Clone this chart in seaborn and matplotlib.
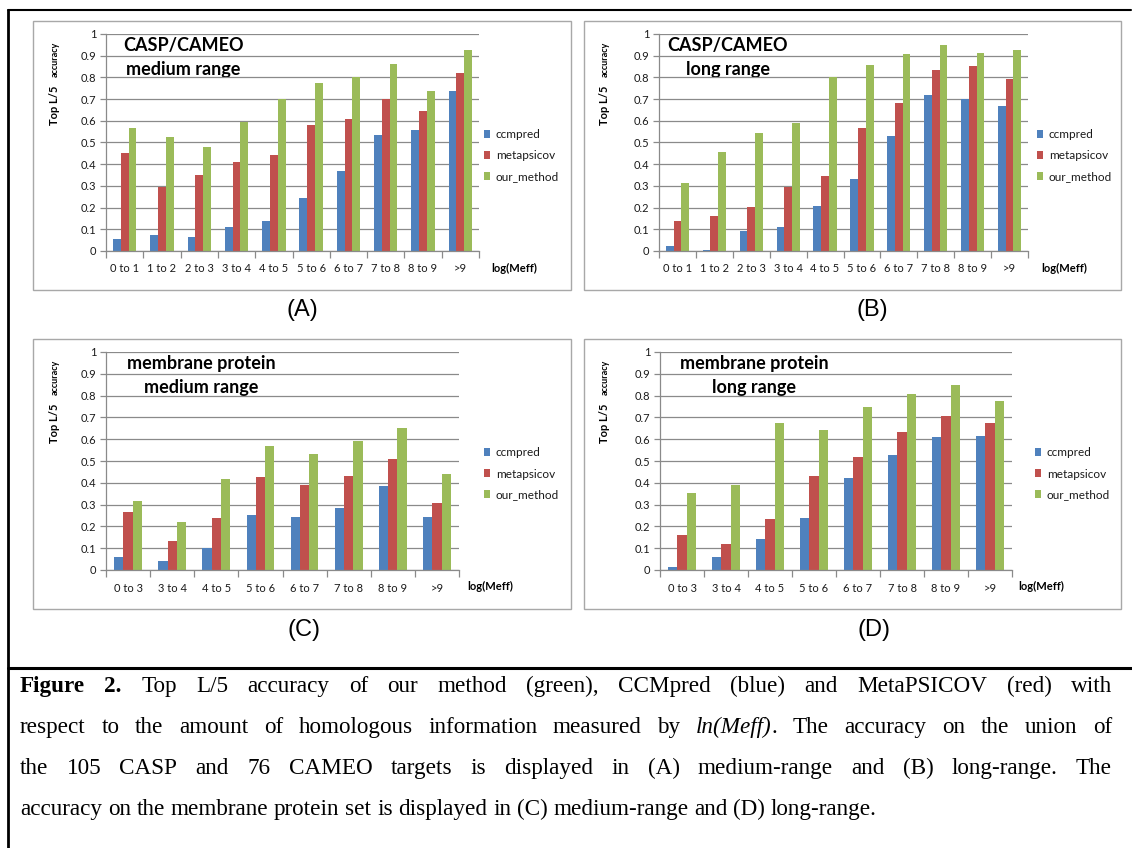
import matplotlib
matplotlib.use('Agg')
import matplotlib.pyplot as plt
import seaborn as sns
import pandas as pd
from matplotlib.lines import Line2D
from matplotlib.patches import Rectangle
from matplotlib.ticker import FixedLocator, FuncFormatter

# ---------------- data ----------------
methods = ['ccmpred', 'metapsicov', 'our_method']
colors = ['#4F81BD', '#C0504D', '#9BBB59']

bins_casp = ['0 to 1', '1 to 2', '2 to 3', '3 to 4', '4 to 5',
             '5 to 6', '6 to 7', '7 to 8', '8 to 9', '>9']
bins_mem = ['0 to 3', '3 to 4', '4 to 5', '5 to 6', '6 to 7',
            '7 to 8', '8 to 9', '>9']

# (A) CASP/CAMEO medium range
a_ccmpred = [0.057, 0.074, 0.065, 0.109, 0.138, 0.243, 0.369, 0.536, 0.558, 0.736]
a_metapsicov = [0.450, 0.295, 0.350, 0.410, 0.441, 0.579, 0.610, 0.699, 0.645, 0.819]
a_our = [0.567, 0.524, 0.479, 0.593, 0.699, 0.774, 0.803, 0.860, 0.739, 0.925]

# (B) CASP/CAMEO long range
b_ccmpred = [0.023, 0.005, 0.092, 0.109, 0.207, 0.333, 0.531, 0.717, 0.700, 0.670]
b_metapsicov = [0.138, 0.160, 0.203, 0.295, 0.346, 0.567, 0.684, 0.834, 0.851, 0.791]
b_our = [0.312, 0.455, 0.544, 0.588, 0.803, 0.856, 0.908, 0.951, 0.912, 0.925]

# (C) membrane protein medium range
c_ccmpred = [0.058, 0.041, 0.100, 0.251, 0.243, 0.286, 0.386, 0.243]
c_metapsicov = [0.265, 0.132, 0.239, 0.426, 0.390, 0.429, 0.510, 0.308]
c_our = [0.317, 0.222, 0.417, 0.571, 0.533, 0.593, 0.652, 0.441]

# (D) membrane protein long range
d_ccmpred = [0.015, 0.058, 0.141, 0.239, 0.420, 0.528, 0.609, 0.613]
d_metapsicov = [0.161, 0.118, 0.236, 0.429, 0.519, 0.631, 0.707, 0.674]
d_our = [0.355, 0.390, 0.674, 0.643, 0.747, 0.807, 0.850, 0.776]

yticks = [0, 0.1, 0.2, 0.3, 0.4, 0.5, 0.6, 0.7, 0.8, 0.9, 1.0]

caption_lines = [
    "Figure 2. Top L/5 accuracy of our method (green), CCMpred (blue) and MetaPSICOV (red) with",
    "respect to the amount of homologous information measured by ln(Meff). The accuracy on the union of",
    "the 105 CASP and 76 CAMEO targets is displayed in (A) medium-range and (B) long-range. The",
    "accuracy on the membrane protein set is displayed in (C) medium-range and (D) long-range.",
]


def make_df(bins, s1, s2, s3):
    rows = []
    for m, vals in zip(methods, [s1, s2, s3]):
        for b, v in zip(bins, vals):
            rows.append({'bin': b, 'method': m, 'acc': v})
    return pd.DataFrame(rows)


# ---------------- figure ----------------
sns.set_theme(style='white')
plt.rcParams['font.family'] = ['Lato', 'DejaVu Sans']

W, H = 1132, 848
fig = plt.figure(figsize=(W / 100, H / 100), dpi=100)
fig.patch.set_facecolor('white')

ax_bg = fig.add_axes([0, 0, 1, 1], zorder=-5)
ax_bg.set_xlim(0, W)
ax_bg.set_ylim(H, 0)
ax_bg.axis('off')


def rect(x0, y0, x1, y1):
    return [x0 / W, 1 - y1 / H, (x1 - x0) / W, (y1 - y0) / H]


panels = [
    dict(df=make_df(bins_casp, a_ccmpred, a_metapsicov, a_our), n=len(bins_casp),
         axr=(106, 34, 479, 251), box=(33, 21, 571, 290),
         t1=('CASP/CAMEO', 183, 45), t2=('medium range', 183, 70),
         leg=(484, 155.5), xl=(514, 268), yl=(60, 125, 42), let=('(A)', 302, 310)),
    dict(df=make_df(bins_casp, b_ccmpred, b_metapsicov, b_our), n=len(bins_casp),
         axr=(659, 34, 1028, 251), box=(584, 21, 1121, 290),
         t1=('CASP/CAMEO', 728, 45), t2=('long range', 728, 70),
         leg=(1037, 155.5), xl=(1064, 268), yl=(610, 125, 42), let=('(B)', 872, 310)),
    dict(df=make_df(bins_mem, c_ccmpred, c_metapsicov, c_our), n=len(bins_mem),
         axr=(106, 352, 459, 570), box=(33, 339, 571, 609),
         t1=('membrane protein', 201, 364), t2=('medium range', 201, 388),
         leg=(484, 474), xl=(490, 586), yl=(60, 443, 360), let=('(C)', 304, 630)),
    dict(df=make_df(bins_mem, d_ccmpred, d_metapsicov, d_our), n=len(bins_mem),
         axr=(660, 352, 1012, 570), box=(584, 339, 1121, 609),
         t1=('membrane protein', 754, 364), t2=('long range', 754, 388),
         leg=(1035, 474), xl=(1041, 586), yl=(610, 443, 360), let=('(D)', 874, 630)),
]

grid_col = '#8A8A8A'
txt_col = '#1a1a1a'

for p in panels:
    # panel frame
    x0, y0, x1, y1 = p['box']
    ax_bg.add_patch(Rectangle((x0, y0), x1 - x0, y1 - y0, fill=False,
                              edgecolor='#A8A8A8', lw=1.0))
    ax = fig.add_axes(rect(*p['axr']))
    ax.set_facecolor('none')
    sns.barplot(data=p['df'], x='bin', y='acc', hue='method', hue_order=methods,
                palette=colors, saturation=1, width=0.63, linewidth=0, ax=ax)
    n = p['n']
    ax.set_xlim(-0.5, n - 0.5)
    ax.set_ylim(0, 1)
    ax.set_axisbelow(True)
    ax.yaxis.set_major_locator(FixedLocator(yticks))
    ax.yaxis.set_major_formatter(FuncFormatter(lambda v, _: '%g' % round(v, 1)))
    ax.grid(axis='y', color=grid_col, lw=0.9)
    ax.grid(axis='x', visible=False)
    for s in ['top', 'right']:
        ax.spines[s].set_visible(False)
    for s in ['left', 'bottom']:
        ax.spines[s].set_color(grid_col)
        ax.spines[s].set_linewidth(0.9)
    ax.xaxis.set_minor_locator(FixedLocator([i - 0.5 for i in range(n + 1)]))
    ax.tick_params(axis='x', which='major', length=0, pad=9, labelsize=8,
                   labelcolor=txt_col)
    ax.tick_params(axis='x', which='minor', length=5, width=0.9, color=grid_col,
                   direction='out', bottom=True)
    ax.tick_params(axis='y', which='major', length=4, width=0.9, color=grid_col,
                   direction='out', left=True, pad=3, labelsize=8,
                   labelcolor=txt_col)
    ax.set_xlabel('')
    ax.set_ylabel('')
    lx, ly = p['leg']
    sns.move_legend(ax, 'center left', bbox_to_anchor=(lx / W, 1 - ly / H),
                    bbox_transform=fig.transFigure, frameon=False, title=None,
                    fontsize=8.5, handlelength=0.55, handleheight=0.65,
                    handletextpad=0.45, labelspacing=0.85, borderpad=0,
                    borderaxespad=0)
    for t in ax.get_legend().get_texts():
        t.set_color(txt_col)

    # in-chart titles
    for key in ['t1', 't2']:
        txt, tx, ty = p[key]
        ax_bg.text(tx, ty, txt, ha='center', va='center', fontsize=13,
                   fontweight='bold', color='black')
    # axis titles
    xx, xy = p['xl']
    ax_bg.text(xx, xy, 'log(Meff)', ha='center', va='center', fontsize=8,
               fontweight='bold', color='black')
    yx, yb, yt = p['yl']
    ax_bg.text(yx, yb, 'Top L/5 ', rotation=90, ha='right', va='bottom',
               fontsize=8, fontweight='bold', color='black')
    ax_bg.text(yx, yt, 'accuracy', rotation=90, ha='right', va='top',
               fontsize=6.5, fontweight='bold', color='black')
    # panel letter
    lt, ltx, lty = p['let']
    ax_bg.text(ltx, lty, lt, ha='center', va='center', fontsize=17,
               family=['Liberation Sans', 'DejaVu Sans'], color='black')

# outer frame lines
ax_bg.add_line(Line2D([8, 1131], [10, 10], color='black', lw=1.5))
ax_bg.add_line(Line2D([8, 8], [10, 848], color='black', lw=2))
ax_bg.add_line(Line2D([8, 1132], [668, 668], color='black', lw=2.2))

# ---------------- caption (justified) ----------------
serif = ['Liberation Serif', 'DejaVu Serif']
renderer = fig.canvas.get_renderer()


def seg_tokens(line):
    toks = []
    for w in line.split(' '):
        if w in ('Figure', '2.'):
            toks.append([(w, 'bold', 'normal')])
        elif w.startswith('ln(Meff)'):
            toks.append([('ln(Meff)', 'normal', 'italic'), (w[len('ln(Meff)'):], 'normal', 'normal')])
        else:
            toks.append([(w, 'normal', 'normal')])
    return toks


def width_of(s, fs, weight='normal', style='normal'):
    t = ax_bg.text(0, 0, s, fontsize=fs, family=serif, fontweight=weight, fontstyle=style)
    w = t.get_window_extent(renderer).width
    t.remove()
    return w


# calibrate font size from the width of the last (unjustified) line
target_last = 855.0
w10 = width_of(caption_lines[3], 10)
fs_cap = 10 * target_last / w10

left_x, right_x = 20, 1112
baselines = [692, 733, 774, 815]
space_w = width_of('x x', fs_cap) - width_of('xx', fs_cap)

for i, line in enumerate(caption_lines):
    toks = seg_tokens(line)
    tok_w = []
    for tok in toks:
        tok_w.append(sum(width_of(s, fs_cap, wt, st) for s, wt, st in tok if s))
    if i < len(caption_lines) - 1:
        gap = (right_x - left_x - sum(tok_w)) / (len(toks) - 1)
    else:
        gap = space_w
    x = left_x
    for tok, tw in zip(toks, tok_w):
        xs = x
        for s, wt, st in tok:
            if not s:
                continue
            t = ax_bg.text(xs, baselines[i], s, fontsize=fs_cap, family=serif,
                           fontweight=wt, fontstyle=st, ha='left', va='baseline',
                           color='black')
            xs += t.get_window_extent(renderer).width
        x += tw + gap

fig.savefig('out.png', dpi=100)
